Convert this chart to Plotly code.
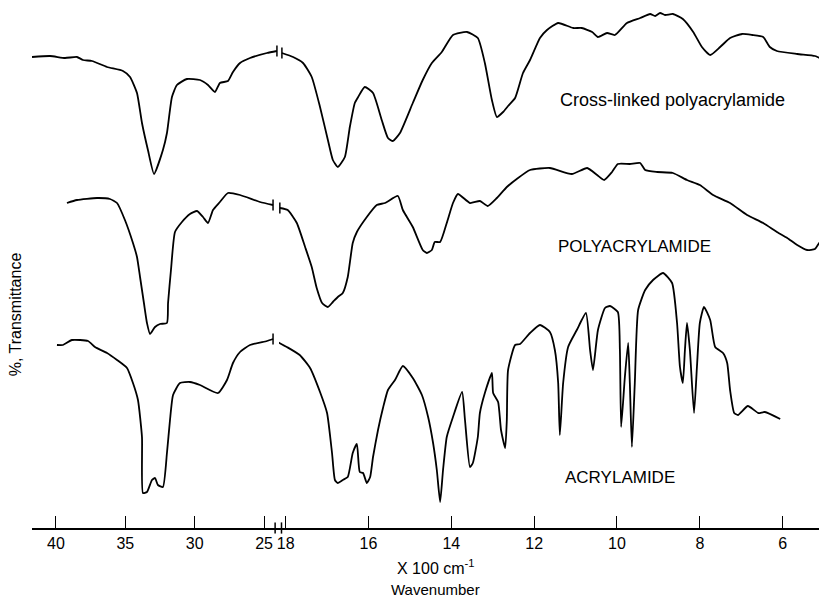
import plotly.graph_objects as go

# Wavenumber in units of 100 cm^-1; transmittance in arbitrary offset units
# Cross-linked polyacrylamide
xl_wn_hi = [41.73, 40.43, 39.35, 38.49, 38.05, 37.40, 36.32, 35.17, 34.66, 34.16, 33.80, 33.37, 32.93,
            32.29, 32.00, 31.64, 31.28, 30.56, 29.62, 29.04, 28.54, 28.18, 27.60, 27.24, 26.73, 26.01,
            24.79, 24.07]
xl_t_hi = [94.2, 94.4, 94.0, 94.2, 93.6, 93.4, 92.2, 91.4, 90.2, 87.0, 81.0, 75.6, 70.8,
           75.6, 79.0, 86.2, 88.6, 89.8, 89.6, 88.6, 87.2, 89.0, 89.4, 91.2, 93.0, 94.0,
           95.0, 95.4]
xl_wn_lo = [18.09, 17.82, 17.58, 17.37, 17.17, 16.98, 16.86, 16.74, 16.57, 16.45, 16.33, 16.25, 16.09,
            15.89, 15.68, 15.53, 15.41, 15.24, 14.93, 14.69, 14.47, 14.23, 13.96, 13.62, 13.36, 13.19,
            13.02, 12.90, 12.75, 12.63, 12.46, 12.27, 12.10, 11.86, 11.69, 11.42, 11.06, 10.85, 10.60,
            10.46, 10.24, 10.05, 9.76, 9.44, 9.20, 9.08, 8.96, 8.84, 8.65, 8.41, 8.16, 7.95, 7.75,
            7.51, 7.27, 6.98, 6.74, 6.47, 6.31, 6.14, 5.65, 5.22, 5.10, 4.93]
xl_t_lo = [95.0, 94.2, 93.0, 90.2, 84.2, 77.6, 73.6, 72.2, 74.2, 80.2, 85.0, 86.2, 88.2,
           87.0, 81.6, 78.0, 77.4, 79.0, 85.0, 89.6, 93.0, 95.2, 98.6, 99.2, 98.0, 93.0,
           85.6, 82.2, 83.2, 84.4, 86.0, 91.0, 93.6, 98.0, 99.6, 101.0, 100.0, 100.0, 99.2,
           98.2, 99.0, 98.6, 101.0, 102.0, 102.8, 102.4, 103.0, 102.6, 102.8, 101.8, 99.2, 96.2, 94.6,
           96.2, 98.0, 98.8, 98.6, 98.2, 96.2, 95.4, 94.8, 94.4, 94.0, 94.0]

# Polyacrylamide
pa_wn_hi = [39.21, 38.49, 37.04, 36.11, 35.60, 35.03, 34.45, 34.16, 33.94, 33.66, 33.44, 33.22, 32.86,
            32.50, 32.00, 31.92, 31.71, 31.42, 30.92, 30.34, 29.83, 29.40, 29.04, 28.68, 28.18, 27.60,
            26.73, 25.29, 24.35]
pa_t_hi = [65.0, 65.6, 66.0, 65.8, 65.0, 61.6, 57.0, 54.2, 50.2, 45.0, 41.0, 38.8, 40.2,
           40.8, 41.0, 45.0, 51.6, 59.2, 61.2, 62.8, 63.4, 62.2, 61.0, 63.6, 65.2, 67.0,
           66.6, 65.2, 64.6]
pa_wn_lo = [18.14, 17.95, 17.73, 17.53, 17.37, 17.25, 17.12, 16.98, 16.86, 16.74, 16.62, 16.50, 16.38,
            16.28, 16.04, 15.80, 15.60, 15.29, 15.17, 14.93, 14.69, 14.59, 14.47, 14.40, 14.27, 14.11,
            13.96, 13.84, 13.55, 13.31, 13.12, 12.90, 12.66, 12.42, 12.10, 11.62, 11.09, 10.72, 10.48,
            10.31, 10.12, 9.98, 9.69, 9.44, 9.32, 9.03, 8.65, 8.31, 8.00, 7.68, 7.27, 6.86, 6.47,
            6.14, 5.89, 5.65, 5.41, 5.22, 5.10, 4.98]
pa_t_lo = [64.0, 63.6, 61.0, 56.2, 52.2, 48.0, 45.0, 44.2, 45.2, 46.2, 47.0, 50.2, 57.0,
           59.2, 62.2, 64.6, 65.0, 66.4, 63.6, 60.2, 55.6, 55.0, 55.6, 57.2, 57.2, 61.0,
           65.0, 66.8, 65.0, 65.4, 64.4, 66.0, 68.2, 69.8, 71.6, 72.0, 70.8, 72.0, 70.6,
           69.6, 71.2, 72.8, 72.8, 73.0, 71.6, 71.2, 71.0, 69.6, 68.6, 66.6, 65.0, 62.6, 61.0,
           59.2, 58.0, 56.6, 55.6, 55.8, 57.2, 57.4]

# Acrylamide
am_wn_hi = [39.93, 39.50, 38.85, 37.69, 37.19, 36.32, 35.60, 34.88, 34.45, 34.09, 33.80, 33.73, 33.44,
            33.08, 32.86, 32.65, 32.29, 32.00, 31.78, 31.56, 31.06, 30.34, 29.62, 28.32, 27.67, 27.24,
            26.73, 26.01, 24.79, 24.35]
am_t_hi = [36.6, 36.6, 37.6, 37.4, 36.2, 35.0, 33.6, 32.0, 29.0, 25.6, 18.2, 7.0, 7.2,
           9.6, 10.0, 8.6, 8.2, 15.0, 21.6, 26.6, 29.0, 29.2, 28.6, 27.0, 29.6, 33.0,
           35.2, 36.6, 37.4, 37.8]
am_wn_lo = [18.19, 17.97, 17.66, 17.41, 17.17, 17.00, 16.88, 16.81, 16.74, 16.62, 16.50, 16.38, 16.28,
            16.21, 16.13, 16.04, 15.96, 15.89, 15.77, 15.65, 15.53, 15.36, 15.17, 14.93, 14.71, 14.56,
            14.44, 14.35, 14.27, 14.20, 14.11, 13.96, 13.74, 13.67, 13.55, 13.48, 13.36, 13.31, 13.19,
            13.02, 12.99, 12.87, 12.80, 12.70, 12.66, 12.63, 12.46, 12.34, 12.10, 11.86, 11.62, 11.50,
            11.42, 11.38, 11.30, 11.18, 10.97, 10.75, 10.65, 10.58, 10.46, 10.29, 10.17, 9.98, 9.93,
            9.90, 9.81, 9.73, 9.69, 9.64, 9.57, 9.49, 9.32, 9.13, 8.89, 8.67, 8.55, 8.48, 8.41,
            8.36, 8.31, 8.24, 8.14, 8.07, 8.00, 7.90, 7.75, 7.63, 7.44, 7.34, 7.27, 7.17, 7.08,
            6.84, 6.59, 6.43, 6.06]
am_t_lo = [37.2, 36.2, 34.6, 32.0, 27.2, 23.0, 15.0, 9.6, 9.0, 9.6, 10.2, 15.0, 16.8,
           11.2, 11.0, 9.0, 10.2, 14.2, 19.6, 24.0, 27.6, 29.6, 32.4, 30.0, 26.6, 22.2,
           17.0, 11.6, 5.2, 11.6, 18.2, 22.2, 27.2, 21.6, 12.2, 13.0, 18.2, 23.0, 27.0,
           31.0, 27.0, 25.2, 19.6, 16.0, 21.6, 31.6, 36.6, 36.8, 39.0, 40.6, 39.2, 35.6,
           29.0, 18.6, 29.0, 36.2, 39.6, 43.0, 35.6, 31.6, 39.6, 44.0, 44.4, 43.2, 35.6,
           20.2, 30.2, 37.0, 29.0, 16.2, 29.0, 43.6, 47.6, 49.6, 51.0, 49.0, 41.0, 32.2, 29.0,
           35.6, 41.0, 35.6, 23.0, 32.2, 41.0, 44.2, 41.6, 36.2, 35.0, 33.0, 27.6, 23.0, 22.6,
           24.4, 23.0, 23.2, 21.8]

ticks_hi = [40, 35, 30, 25]
ticks_lo = [18, 16, 14, 12, 10, 8, 6]

spectra = [
    (xl_wn_hi, xl_t_hi, xl_wn_lo, xl_t_lo),
    (pa_wn_hi, pa_t_hi, pa_wn_lo, pa_t_lo),
    (am_wn_hi, am_t_hi, am_wn_lo, am_t_lo),
]

FONT = "Liberation Sans, Arial, sans-serif"
fig = go.Figure()
line = dict(color="black", width=1.8, shape="spline", smoothing=0.5)
brk = dict(symbol="line-ns", size=8, line=dict(color="black", width=1.5))
for whi, thi, wlo, tlo in spectra:
    fig.add_trace(go.Scatter(x=whi, y=thi, mode="lines", line=line, xaxis="x", yaxis="y",
                             showlegend=False, hoverinfo="skip"))
    fig.add_trace(go.Scatter(x=wlo, y=tlo, mode="lines", line=line, xaxis="x2", yaxis="y",
                             showlegend=False, hoverinfo="skip"))
    fig.add_trace(go.Scatter(x=[whi[-1]], y=[thi[-1]], mode="markers", marker=brk, xaxis="x",
                             yaxis="y", showlegend=False, hoverinfo="skip", cliponaxis=False))
    fig.add_trace(go.Scatter(x=[wlo[0]], y=[tlo[0]], mode="markers", marker=brk, xaxis="x2",
                             yaxis="y", showlegend=False, hoverinfo="skip", cliponaxis=False))

# axis break marks
fig.add_trace(go.Scatter(x=[24.2], y=[0], mode="markers", marker=brk, xaxis="x", yaxis="y",
                         showlegend=False, hoverinfo="skip", cliponaxis=False))
fig.add_trace(go.Scatter(x=[18.1], y=[0], mode="markers", marker=brk, xaxis="x2", yaxis="y",
                         showlegend=False, hoverinfo="skip", cliponaxis=False))

axis_common = dict(showline=True, linecolor="black", linewidth=1.5, ticks="inside", ticklen=12,
                   tickwidth=1.3, tickcolor="black", showgrid=False, zeroline=False,
                   automargin=False,
                   tickfont=dict(family=FONT, size=16, color="black"), anchor="y")
fig.update_layout(
    width=819, height=592,
    margin=dict(l=24, r=0, t=0, b=72),
    paper_bgcolor="white", plot_bgcolor="white",
    xaxis=dict(domain=[0, 0.3107], range=[41.73, 23.92], tickvals=ticks_hi,
               ticktext=[str(v) for v in ticks_hi], **axis_common),
    xaxis2=dict(domain=[0.3107, 1], range=[18.16, 4.93], tickvals=ticks_lo,
                ticktext=[str(v) for v in ticks_lo], **axis_common),
    yaxis=dict(range=[0, 104], visible=False),
    annotations=[
        dict(text="Cross-linked polyacrylamide", xref="x2", yref="y", x=11.42, y=85.6,
             xanchor="left", yanchor="middle", showarrow=False,
             font=dict(family=FONT, size=18, color="black")),
        dict(text="POLYACRYLAMIDE", xref="x2", yref="y", x=11.47, y=56.4,
             xanchor="left", yanchor="middle", showarrow=False,
             font=dict(family=FONT, size=17, color="black")),
        dict(text="ACRYLAMIDE", xref="x2", yref="y", x=11.30, y=10.2,
             xanchor="left", yanchor="middle", showarrow=False,
             font=dict(family=FONT, size=17, color="black")),
        dict(text="X 100 cm<sup>-1</sup>", xref="paper", yref="paper", x=0.508, y=-0.075,
             xanchor="center", yanchor="middle", showarrow=False,
             font=dict(family=FONT, size=16, color="black")),
        dict(text="Wavenumber", xref="paper", yref="paper", x=0.508, y=-0.119,
             xanchor="center", yanchor="middle", showarrow=False,
             font=dict(family=FONT, size=15, color="black")),
        dict(text="%, Transmittance", xref="paper", yref="paper", x=-0.021, y=0.4115,
             xanchor="center", yanchor="middle", textangle=-90, showarrow=False,
             font=dict(family=FONT, size=16, color="black")),
    ],
)
fig.write_html("out.html")
